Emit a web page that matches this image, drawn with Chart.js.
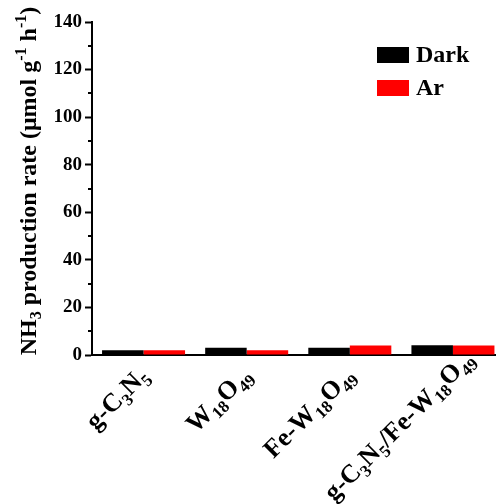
<!DOCTYPE html>
<html><head><meta charset="utf-8">
<script src="https://cdn.jsdelivr.net/npm/chart.js@4"></script>
<style>html,body{margin:0;padding:0;overflow:hidden;background:#fff}
#wrap{position:relative;width:510px;height:504px}</style>
</head><body><div id="wrap"><canvas id="c" width="510" height="504"></canvas></div>
<script>
const categories = ['g-C3N5', 'W18O49', 'Fe-W18O49', 'g-C3N5/Fe-W18O49'];
const categoryMarkup = ['g-C_{3}N_{5}', 'W_{18}O_{49}', 'Fe-W_{18}O_{49}', 'g-C_{3}N_{5}/Fe-W_{18}O_{49}'];
const darkValues = [2.0, 3.0, 3.0, 4.1];
const arValues = [2.0, 2.0, 4.0, 4.0];
const yMin = 0, yMax = 140, yStep = 20, yMinorStep = 10;
const yTitleMarkup = 'NH_{3} production rate (\u03bcmol g^{-1} h^{-1})';
const seriesNames = ['Dark', 'Ar'];
const seriesColors = ['#000000', '#ff0000'];

const FAM = '"Liberation Serif", "Times New Roman", serif';

function parseMarkup(s) {
  const segs = [];
  const re = /([_^])\{([^}]*)\}/g;
  let last = 0, m;
  while ((m = re.exec(s))) {
    if (m.index > last) segs.push({t: s.slice(last, m.index), k: 'n'});
    segs.push({t: m[2], k: m[1] === '_' ? 'sub' : 'sup'});
    last = re.lastIndex;
  }
  if (last < s.length) segs.push({t: s.slice(last), k: 'n'});
  return segs;
}

function measureRich(ctx, markup, main, small) {
  let total = 0;
  ctx.save();
  parseMarkup(markup).forEach(sg => {
    ctx.font = 'bold ' + (sg.k === 'n' ? main : small) + 'px ' + FAM;
    total += ctx.measureText(sg.t).width;
  });
  ctx.restore();
  return total;
}

function drawRich(ctx, markup, x, y, angle, align, main, small, subOff, supOff) {
  const segs = parseMarkup(markup);
  ctx.save();
  ctx.translate(x, y);
  ctx.rotate(angle);
  ctx.textBaseline = 'alphabetic';
  ctx.textAlign = 'left';
  let total = 0;
  const widths = segs.map(sg => {
    ctx.font = 'bold ' + (sg.k === 'n' ? main : small) + 'px ' + FAM;
    const w = ctx.measureText(sg.t).width;
    total += w;
    return w;
  });
  let cx = align === 'right' ? -total : (align === 'center' ? -total / 2 : 0);
  ctx.fillStyle = '#000';
  segs.forEach((sg, i) => {
    ctx.font = 'bold ' + (sg.k === 'n' ? main : small) + 'px ' + FAM;
    const dy = sg.k === 'sub' ? subOff : (sg.k === 'sup' ? supOff : 0);
    ctx.fillText(sg.t, cx, dy);
    cx += widths[i];
  });
  ctx.restore();
}

const decor = {
  id: 'decor',
  afterDraw(chart) {
    const ctx = chart.ctx;
    const ys = chart.scales.y, xs = chart.scales.x;
    const left = chart.chartArea.left;
    // minor ticks
    ctx.save();
    ctx.strokeStyle = '#000';
    ctx.lineWidth = 2;
    for (let v = yMin + yMinorStep; v < yMax; v += yStep) {
      const py = Math.round(ys.getPixelForValue(v));
      ctx.beginPath();
      ctx.moveTo(left - 4, py);
      ctx.lineTo(left, py);
      ctx.stroke();
    }
    ctx.restore();
    // y title
    drawRich(ctx, yTitleMarkup, 36, 181, -Math.PI / 2, 'center', 24, 16, 5, -10);
    // x labels (rotated 45deg, right end at the tick; kept inside the canvas)
    const c45 = Math.SQRT1_2;
    const maxBottom = chart.height + 2;
    categoryMarkup.forEach((mk, i) => {
      let ax = xs.getPixelForValue(i) + 6;
      let ay = chart.chartArea.bottom + 22;
      const total = measureRich(ctx, mk, 26, 17);
      const bottom = ay + total * c45 + 4;
      if (bottom > maxBottom) {
        const d = (bottom - maxBottom) / c45;
        ax += d * c45;
        ay -= d * c45;
      }
      drawRich(ctx, mk, ax, ay, -Math.PI / 4, 'right', 26, 17, 6, -10);
    });
    // legend
    ctx.save();
    ctx.fillStyle = seriesColors[0];
    ctx.fillRect(377, 47, 32, 16);
    ctx.fillStyle = seriesColors[1];
    ctx.fillRect(377, 80, 32, 16);
    ctx.fillStyle = '#000';
    ctx.font = 'bold 24px ' + FAM;
    ctx.textBaseline = 'alphabetic';
    ctx.fillText(seriesNames[0], 416, 62);
    ctx.fillText(seriesNames[1], 416, 95);
    ctx.restore();
  }
};

new Chart(document.getElementById('c'), {
  type: 'bar',
  data: {
    labels: categories,
    datasets: [
      {label: seriesNames[0], data: darkValues, backgroundColor: seriesColors[0], borderWidth: 0},
      {label: seriesNames[1], data: arValues, backgroundColor: seriesColors[1], borderWidth: 0}
    ]
  },
  options: {
    responsive: false,
    animation: false,
    devicePixelRatio: 1,
    layout: {padding: {top: 22, right: 5.5, left: 0, bottom: 0}},
    datasets: {bar: {categoryPercentage: 0.805, barPercentage: 1.0}},
    plugins: {legend: {display: false}, tooltip: {enabled: false}},
    scales: {
      x: {
        grid: {display: false},
        border: {display: true, color: '#000', width: 2},
        ticks: {display: false},
        afterFit(s) { s.height = 149; }
      },
      y: {
        min: yMin, max: yMax,
        ticks: {stepSize: yStep, color: '#000', padding: 3, font: {family: FAM, size: 19, weight: 'bold'}},
        grid: {display: true, drawOnChartArea: false, drawTicks: true, tickLength: 7, tickWidth: 2, tickColor: '#000'},
        border: {display: true, color: '#000', width: 2},
        afterFit(s) { s.width = 92; }
      }
    }
  },
  plugins: [decor]
});
</script>
</body></html>
